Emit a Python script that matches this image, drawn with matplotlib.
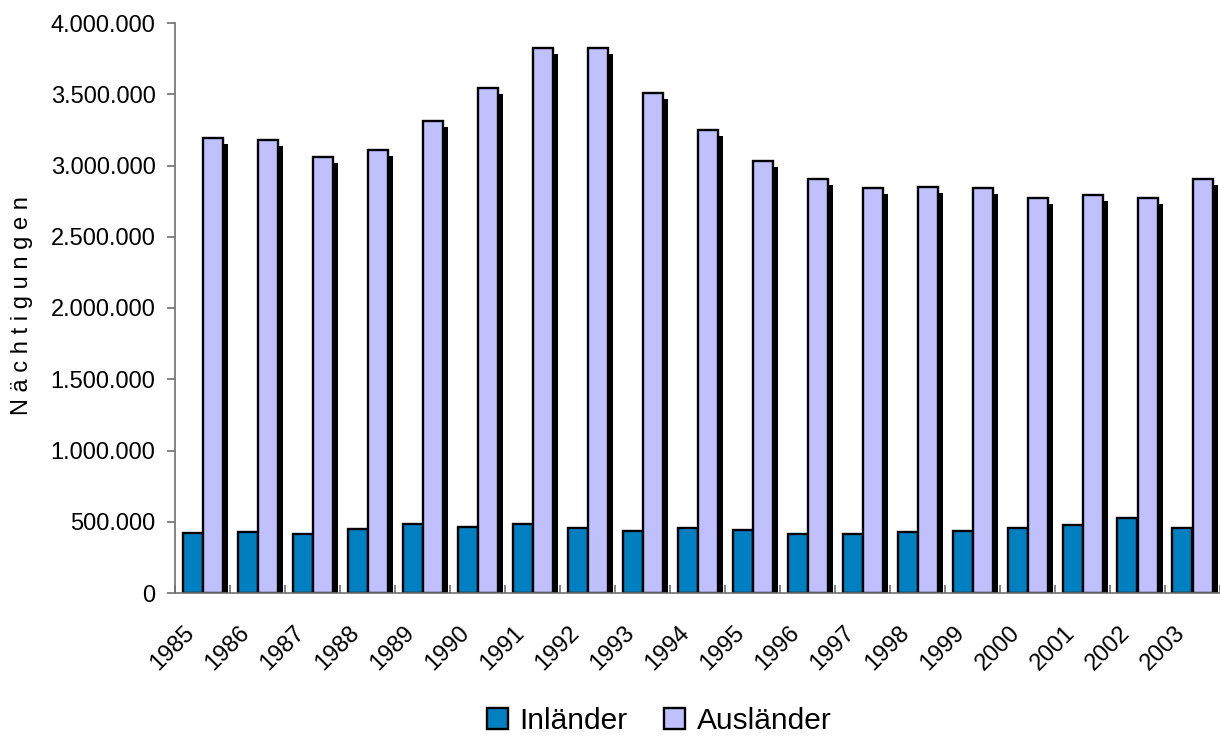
"""Nächtigungen Inländer / Ausländer 1985-2003 as grouped bar chart"""

import numpy as np
import matplotlib
matplotlib.use("Agg")
import matplotlib.pyplot as plt
import matplotlib.patheffects as pe
import matplotlib.transforms as mtransforms
from matplotlib.patches import Patch
from matplotlib.ticker import FuncFormatter, MultipleLocator, FixedLocator

plt.rcParams['font.family'] = ['Liberation Sans', 'DejaVu Sans']

# data
years = ['1985', '1986', '1987', '1988', '1989', '1990', '1991', '1992', '1993', '1994',
         '1995', '1996', '1997', '1998', '1999', '2000', '2001', '2002', '2003']
inlaender = [419000, 428000, 412000, 447000, 482000, 463000, 486000, 454000, 433000, 456000,
             440000, 412000, 416000, 426000, 435000, 458000, 475000, 524000, 458000]
auslaender = [3191000, 3179000, 3062000, 3109000, 3312000, 3542000, 3822000, 3827000, 3511000, 3249000,
              3032000, 2905000, 2844000, 2851000, 2844000, 2774000, 2793000, 2774000, 2905000]

COL_IN = '#0080C0'
COL_AUS = '#C0C0FF'
SPINE = '#707070'

fig = plt.figure(figsize=(12.2, 7.36), dpi=100)
ax = fig.add_axes([175 / 1220, 1 - 593 / 736, 1045 / 1220, 570 / 736])

x = np.arange(len(years))
w = 20 / 55
shadow = [pe.SimplePatchShadow(offset=(4.3, -4.3), shadow_rgbFace='black', alpha=1.0), pe.Normal()]

bars_in = ax.bar(x - w / 2, inlaender, w, color=COL_IN, edgecolor='black', linewidth=1.7)
bars_aus = ax.bar(x + w / 2, auslaender, w, color=COL_AUS, edgecolor='black', linewidth=1.7)
for b in list(bars_in) + list(bars_aus):
    b.set_path_effects(shadow)

ax.set_xlim(-0.5, len(years) - 0.5)
ax.set_ylim(0, 4000000)

ax.spines['top'].set_visible(False)
ax.spines['right'].set_visible(False)
ax.spines['left'].set_color(SPINE)
ax.spines['bottom'].set_color(SPINE)
ax.spines['left'].set_linewidth(1.2)
ax.spines['bottom'].set_linewidth(1.2)

ax.yaxis.set_major_locator(MultipleLocator(500000))
ax.yaxis.set_major_formatter(FuncFormatter(lambda v, p: f"{int(v):,}".replace(',', '.')))
ax.tick_params(axis='y', direction='out', length=6, width=1.2, color=SPINE, labelsize=17, pad=8)

# category labels at the centres, tick marks at the group borders
ax.set_xticks(x)
ax.set_xticklabels(years, rotation=45, ha='right', rotation_mode='anchor', fontsize=17)
ax.tick_params(axis='x', which='major', length=0, pad=21)
shift = mtransforms.ScaledTranslation(-19 / 100, 0, fig.dpi_scale_trans)
for lbl in ax.get_xticklabels():
    lbl.set_transform(lbl.get_transform() + shift)
ax.xaxis.set_minor_locator(FixedLocator(np.arange(-0.5, len(years), 1.0)))
ax.tick_params(axis='x', which='minor', direction='in', length=6, width=1.2, color=SPINE)

fig.text(22 / 1220, 1 - 306 / 736, 'N ä c h t i g u n g e n', rotation=90,
         ha='center', va='center', fontsize=17)

handles = [Patch(facecolor=COL_IN, edgecolor='black', linewidth=1.7),
           Patch(facecolor=COL_AUS, edgecolor='black', linewidth=1.7)]
fig.legend(handles=handles, labels=['Inländer', 'Ausländer'], loc='center',
           bbox_to_anchor=(659 / 1220, 1 - 721 / 736), ncol=2, frameon=False, fontsize=21.5,
           handlelength=0.7, handleheight=0.7, handletextpad=0.4, columnspacing=1.2)

fig.savefig('out.png', dpi=100)
